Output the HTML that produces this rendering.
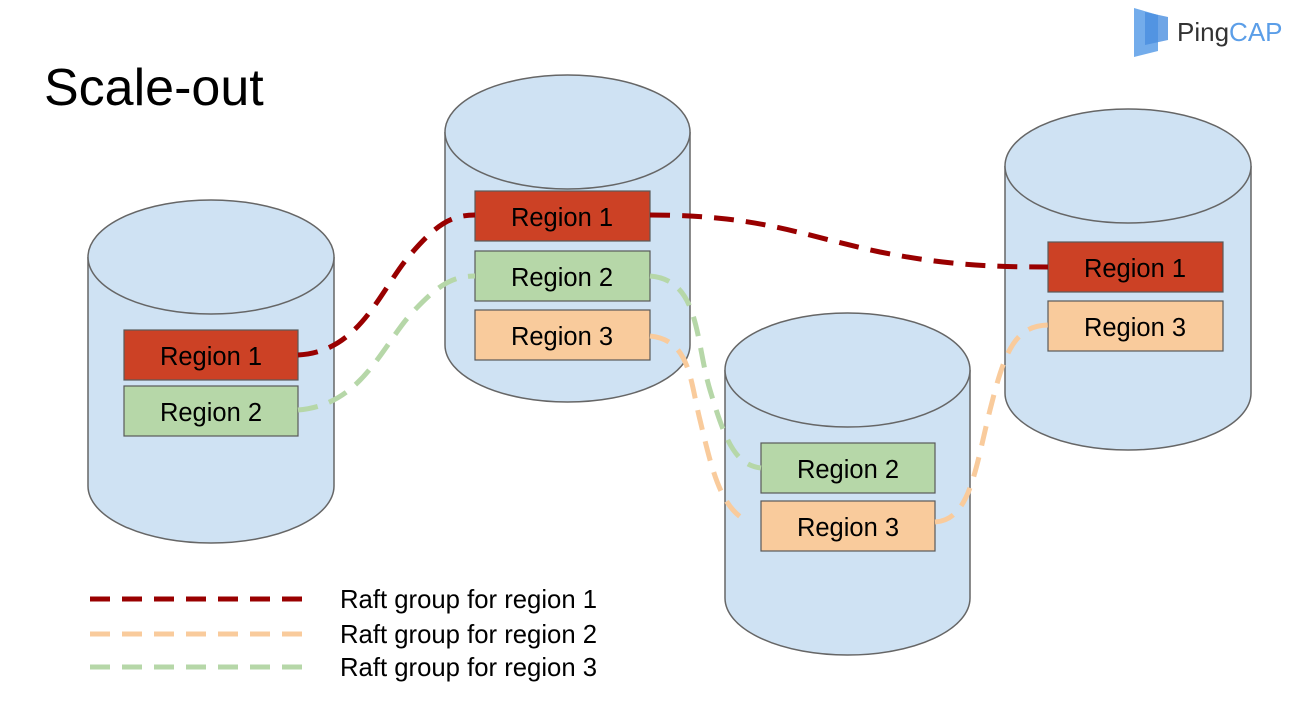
<!DOCTYPE html>
<html><head><style>
html,body{margin:0;padding:0;background:#fff;}
body{width:1315px;height:715px;overflow:hidden;position:relative;font-family:"Liberation Sans",Arial,sans-serif;}
</style></head><body>
<svg width="1315" height="715" viewBox="0 0 1315 715" xmlns="http://www.w3.org/2000/svg" style="position:absolute;left:0;top:0">
<g fill="#cfe2f3" stroke="#666" stroke-width="1.5">
<path d="M88,257 L88,486 A123,57 0 0 0 334,486 L334,257"/>
<ellipse cx="211" cy="257" rx="123" ry="57"/>
<path d="M445,132 L445,345 A122.5,57 0 0 0 690,345 L690,132"/>
<ellipse cx="567.5" cy="132" rx="122.5" ry="57"/>
<path d="M725,370 L725,598 A122.5,57 0 0 0 970,598 L970,370"/>
<ellipse cx="847.5" cy="370" rx="122.5" ry="57"/>
<path d="M1005,166 L1005,393 A123,57 0 0 0 1251,393 L1251,166"/>
<ellipse cx="1128" cy="166" rx="123" ry="57"/>
</g>
<g stroke="#595959" stroke-width="1.2">
<rect x="124" y="330" width="174" height="50" fill="#cc4125"/>
<rect x="124" y="386" width="174" height="50" fill="#b6d7a8"/>
<rect x="475" y="191" width="175" height="50" fill="#cc4125"/>
<rect x="475" y="251" width="175" height="50" fill="#b6d7a8"/>
<rect x="475" y="310" width="175" height="50" fill="#f9cb9c"/>
<rect x="1048" y="242" width="175" height="50" fill="#cc4125"/>
<rect x="1048" y="301" width="175" height="50" fill="#f9cb9c"/>
<rect x="761" y="443" width="174" height="50" fill="#b6d7a8"/>
<rect x="761" y="501" width="174" height="50" fill="#f9cb9c"/>
</g>
<g font-size="25.5" fill="#000" text-anchor="middle">
<text x="211" y="365">Region 1</text>
<text x="211" y="421">Region 2</text>
<text x="562" y="226">Region 1</text>
<text x="562" y="286">Region 2</text>
<text x="562" y="345">Region 3</text>
<text x="1135" y="277">Region 1</text>
<text x="1135" y="336">Region 3</text>
<text x="848" y="478">Region 2</text>
<text x="848" y="536">Region 3</text>
</g>
<g fill="none" stroke-width="5" stroke-dasharray="20 12">
<path d="M298,355 C360,352 380,290 410,255 C435,226 450,215 475,215" stroke="#990000"/>
<path d="M650,215 C760,215 800,235 880,252 C950,266 1000,267 1048,267" stroke="#990000"/>
<path d="M298,410 C360,405 380,350 410,315 C435,288 450,276 475,276" stroke="#b6d7a8"/>
<path d="M650,276 C700,280 695,340 710,390 C725,440 735,465 761,468" stroke="#b6d7a8"/>
<path d="M650,336 C690,340 690,380 700,420 C712,470 720,505 745,520" stroke="#f9cb9c"/>
<path d="M935,522 C970,520 975,470 990,410 C1005,350 1015,326 1048,325" stroke="#f9cb9c"/>
<path d="M90,599 L305,599" stroke="#990000"/>
<path d="M90,634 L305,634" stroke="#f9cb9c"/>
<path d="M90,667 L305,667" stroke="#b6d7a8"/>
</g>
<g font-size="25.7" fill="#000">
<text x="340" y="608">Raft group for region 1</text>
<text x="340" y="643">Raft group for region 2</text>
<text x="340" y="676">Raft group for region 3</text>
</g>
<text x="44" y="105" font-size="52" fill="#000">Scale-out</text>
<polygon points="1134,8 1158,15 1158,51 1134,57" fill="#5b9ee8" opacity="0.85"/>
<polygon points="1145,12 1168,17 1168,40 1145,45" fill="#4a8fe0" opacity="0.8"/>
<text x="1177" y="41" font-size="26" fill="#333">Ping<tspan fill="#5b9ee8">CAP</tspan></text>
</svg>
</body></html>
